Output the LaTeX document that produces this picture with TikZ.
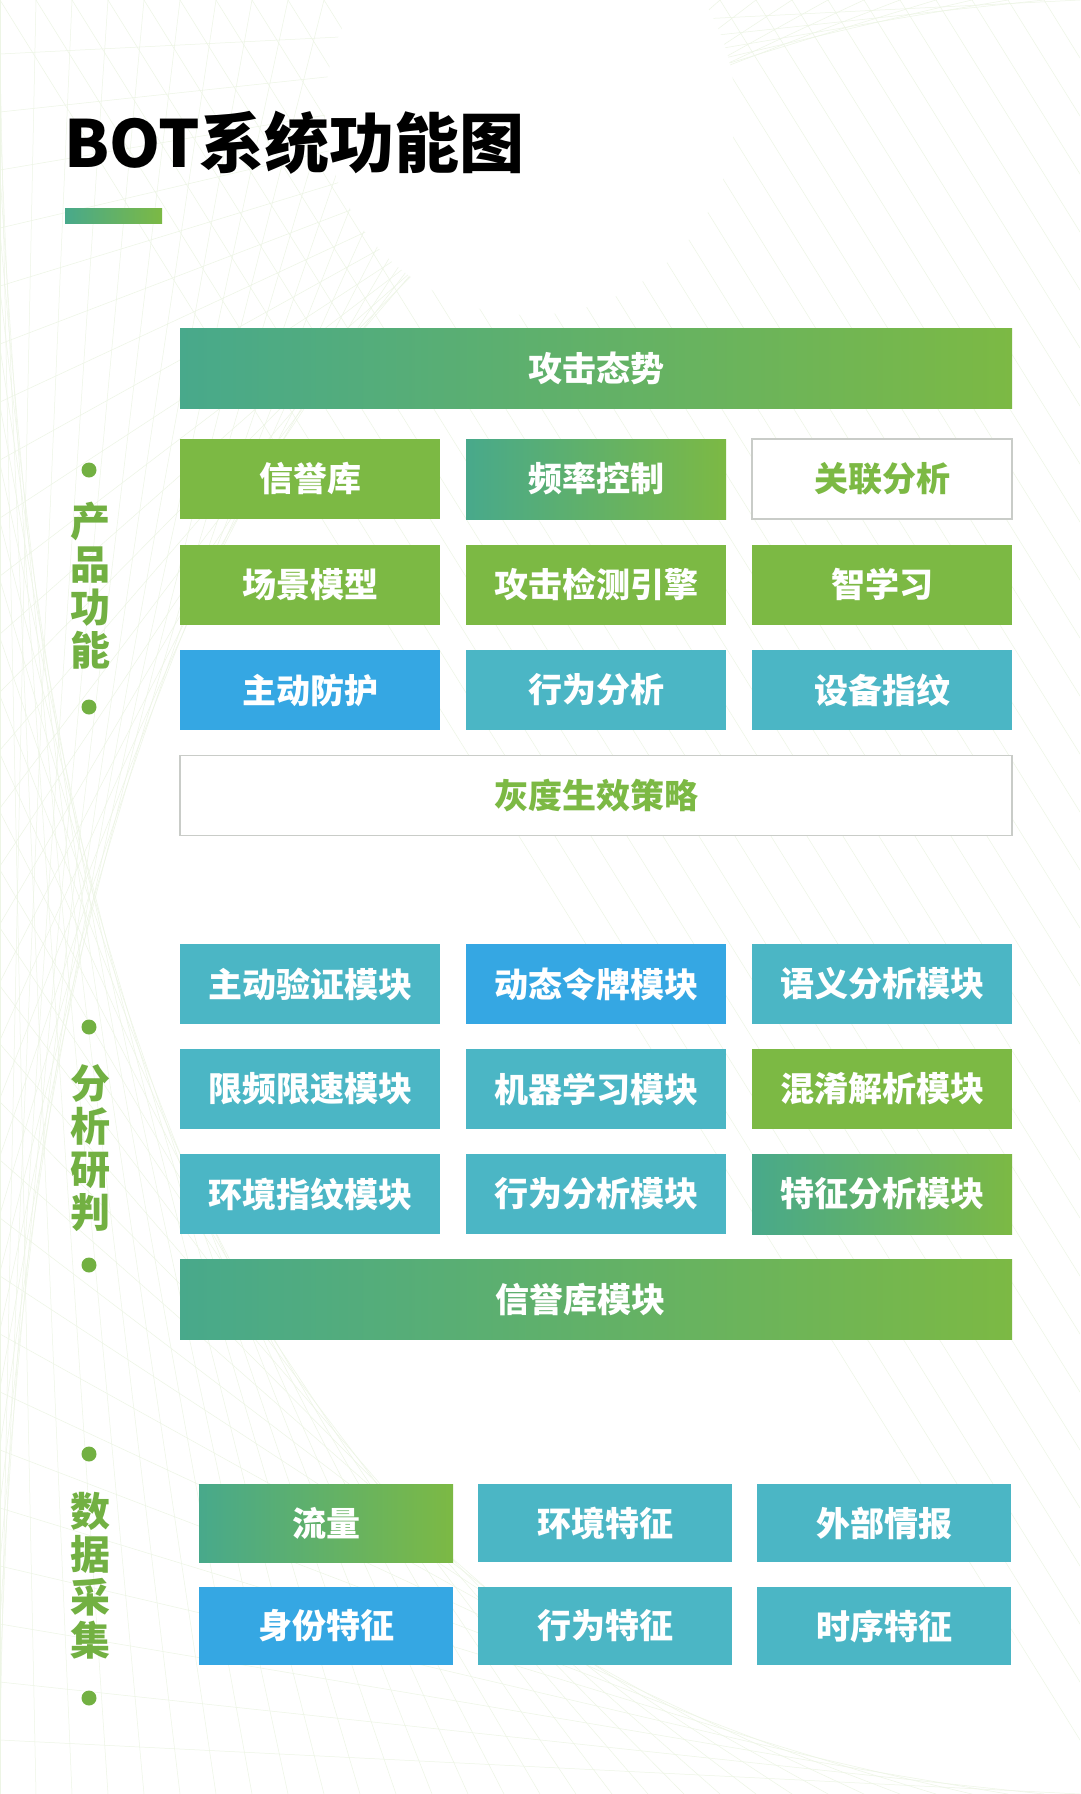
\documentclass[tikz,border=0pt]{standalone}
\usepackage{fontspec}
\setmainfont{Noto Sans CJK SC}
\usetikzlibrary{positioning}
\definecolor{botgreen}{HTML}{7CB944}
\definecolor{botteal}{HTML}{4BB6C5}
\definecolor{botblue}{HTML}{35A7E3}
\definecolor{botmint}{HTML}{48A98B}
\definecolor{botgray}{HTML}{C9CCC8}
\definecolor{botlabel}{HTML}{72B042}
\tikzset{
    module-box/.style = {rectangle, minimum width=260pt, minimum height=80pt, inner sep=0pt, outer sep=0pt, text=white, font=\fontsize{34}{38}\selectfont\bfseries},
    green-box/.style = {module-box, fill=botgreen},
    teal-box/.style = {module-box, fill=botteal},
    blue-box/.style = {module-box, fill=botblue},
    fade-box/.style = {module-box, left color=botmint, right color=botgreen},
    blank-box/.style = {module-box, fill=white, draw=botgray, line width=1.2pt, text=botgreen},
    wide-box/.style = {minimum width=832pt},
    data-box/.style = {minimum width=254pt, minimum height=78pt},
    side-title/.style = {text=botlabel, font=\fontsize{40}{43}\selectfont\bfseries, align=center, inner sep=0pt},
    side-dot/.style = {circle, fill=botlabel, minimum size=15pt, inner sep=0pt},
    mesh-line/.style = {draw=botgreen!14, line width=0.5pt},
}

\begin{document}
\begin{tikzpicture}[x=1pt, y=-1pt]
\useasboundingbox (0,0) rectangle (1080,1794);
% background mesh
\fill[white] (0,0) rectangle (1080,1794);
\foreach \i in {0,...,30} {
    \draw[mesh-line] (0,\i*58) -- (\i*36,1794);
    \draw[mesh-line] (1080,\i*58) -- (1080-\i*36,0);
    \draw[mesh-line] (\i*36,0) -- (0,1794-\i*58);
}
\fill[white] (530,110) circle (205);

% title
\node[anchor=west, inner sep=0pt, font=\fontsize{65}{68}\selectfont\bfseries] (title) at (64,143) {BOT系统功能图};
\fill[left color=botmint, right color=botgreen] (65,208) rectangle (162,223);

% product functions
\node[fade-box, wide-box, anchor=north west] (gongji) at (180,328) {攻击态势};
\node[green-box, anchor=north west] (xinyu) at (180,439) {信誉库};
\node[fade-box, right=26pt of xinyu] (pinlv) {频率控制};
\node[blank-box, right=26pt of pinlv] (guanlian) {关联分析};
\node[green-box, below=25.5pt of xinyu] (changjing) {场景模型};
\node[green-box, right=26pt of changjing] (jiance) {攻击检测引擎};
\node[green-box, right=26pt of jiance] (zhixue) {智学习};
\node[blue-box, below=25.5pt of changjing] (fanghu) {主动防护};
\node[teal-box, right=26pt of fanghu] (xingwei) {行为分析};
\node[teal-box, right=26pt of xingwei] (shebei) {设备指纹};
\node[blank-box, wide-box, below=25.5pt of fanghu.south west, anchor=north west] (huidu) {灰度生效策略};

% analysis modules
\node[teal-box, anchor=north west] (yanzheng) at (180,944) {主动验证模块};
\node[blue-box, right=26pt of yanzheng] (lingpai) {动态令牌模块};
\node[teal-box, right=26pt of lingpai] (yuyi) {语义分析模块};
\node[teal-box, below=25pt of yanzheng] (xiansu) {限频限速模块};
\node[teal-box, right=26pt of xiansu] (jiqi) {机器学习模块};
\node[green-box, right=26pt of jiqi] (hunxiao) {混淆解析模块};
\node[teal-box, below=25pt of xiansu] (huanjing) {环境指纹模块};
\node[teal-box, right=26pt of huanjing] (xingweimk) {行为分析模块};
\node[fade-box, right=26pt of xingweimk] (tezheng) {特征分析模块};
\node[fade-box, wide-box, below=25pt of huanjing.south west, anchor=north west] (xinyumk) {信誉库模块\hspace*{32pt}};

% data collection
\node[fade-box, data-box, anchor=north west] (liuliang) at (199,1484) {流量};
\node[teal-box, data-box, right=25pt of liuliang] (huanjingtz) {环境特征};
\node[teal-box, data-box, right=25pt of huanjingtz] (waibu) {外部情报};
\node[blue-box, data-box, below=25pt of liuliang] (shenfen) {身份特征};
\node[teal-box, data-box, right=25pt of shenfen] (xingweitz) {行为特征};
\node[teal-box, data-box, right=25pt of xingweitz] (shixu) {时序特征};

% side titles
\node[side-dot] (chanpin-top) at (89,470) {};
\node[side-title] (chanpin) at (90,586) {产\\品\\功\\能};
\node[side-dot] (chanpin-bot) at (89,707) {};
\node[side-dot] (fenxi-top) at (89,1027) {};
\node[side-title] (fenxi) at (90,1148) {分\\析\\研\\判};
\node[side-dot] (fenxi-bot) at (89,1265) {};
\node[side-dot] (shuju-top) at (89,1454) {};
\node[side-title] (shuju) at (90,1576) {数\\据\\采\\集};
\node[side-dot] (shuju-bot) at (89,1698) {};
\end{tikzpicture}
\end{document}
